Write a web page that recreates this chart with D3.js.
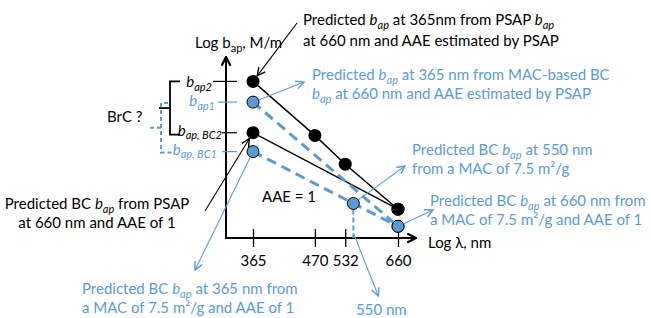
<!DOCTYPE html>
<html>
<head>
<meta charset="utf-8">
<script src="https://cdn.jsdelivr.net/npm/d3@7"></script>
<style>
  body { margin: 0; background: #fff; }
  svg { font-family: Lato, "Open Sans", sans-serif; white-space: pre; }
</style>
</head>
<body>
<div id="chart"></div>
<script>
// wavelengths on the x axis (nm)
const wavelengths = [365, 470, 532, 660];

// Log b_ap, arbitrary units
const psapWl = [365, 470, 532, 660];
const psapVals = [8.7, 5.7, 4.1, 1.6];          // predicted from PSAP b_ap + PSAP AAE
const macWl = [365, 660];
const macVals = [7.55, 0.65];                  // MAC-based BC + PSAP AAE
const bcPsapWl = [365, 660];
const bcPsapVals = [5.85, 1.6];                // BC from PSAP, AAE of 1
const bcMacWl = [365, 550, 660];
const bcMacVals = [4.8, 1.92, 0.65];           // BC from MAC 7.5, AAE of 1

const width = 651;
const height = 318;
const black = '#000';
const blue = '#5b9bd5';
const fontSize = 15;

const svg = d3.select('#chart')
              .append('svg')
              .attr('width', width)
              .attr('height', height)
              .style('font-size', fontSize + 'px');

const defs = svg.append('defs');
function marker(id, color, size, sw) {
    defs.append('marker')
        .attr('id', id)
        .attr('viewBox', '0 0 10 10')
        .attr('refX', 9)
        .attr('refY', 5)
        .attr('markerWidth', size)
        .attr('markerHeight', size)
        .attr('markerUnits', 'userSpaceOnUse')
        .attr('orient', 'auto')
        .append('path')
        .attr('d', 'M1,1 L9,5 L1,9')
        .attr('fill', 'none')
        .attr('stroke', color)
        .attr('stroke-width', sw);
}
marker('arrBlack', black, 10, 1.4);
marker('arrBlue', blue, 10, 1.4);
marker('arrAxis', black, 11, 2);

const x0 = 226, y0 = 238;
const x = d3.scaleLog().domain([365, 660]).range([253, 398]);
const y = d3.scaleLinear().domain([0, 10]).range([y0, 58]);

// axes with arrows
svg.append('line').attr('x1', x0).attr('y1', y0 + 1).attr('x2', x0).attr('y2', 57)
   .attr('stroke', black).attr('stroke-width', 2).attr('marker-end', 'url(#arrAxis)');
svg.append('line').attr('x1', x0 - 1).attr('y1', y0).attr('x2', 416).attr('y2', y0)
   .attr('stroke', black).attr('stroke-width', 2).attr('marker-end', 'url(#arrAxis)');

const xAxis = svg.append('g')
                 .attr('transform', `translate(0,${y0})`)
                 .call(d3.axisBottom(x)
                         .tickValues(wavelengths)
                         .tickFormat(d3.format('d'))
                         .tickSize(9)
                         .tickPadding(8));
xAxis.select('.domain').remove();
xAxis.selectAll('line').attr('y1', -9).attr('stroke', black).attr('stroke-width', 1.3);
xAxis.selectAll('text').style('font-size', fontSize + 'px').style('font-family', 'Lato, sans-serif').attr('fill', black);

// rich text: segments are strings or [text, kind]
function richLine(xp, yp, segs, color, anchor) {
    const t = svg.append('text')
                 .attr('x', xp)
                 .attr('y', yp)
                 .attr('fill', color)
                 .attr('text-anchor', anchor || 'start');
    let shift = 0;
    segs.forEach(s => {
        const [str, kind] = typeof s === 'string' ? [s, 'n'] : s;
        const target = (kind === 'sub' || kind === 'subn') ? 3.5 : 0;
        const ts = t.append('tspan').attr('dy', target - shift).text(str);
        shift = target;
        if (kind === 'i' || kind === 'sub') ts.style('font-style', 'italic');
        if (kind === 'sub' || kind === 'subn') ts.style('font-size', '11px');
    });
    return t;
}

function arrow(x1, y1, x2, y2, color, cut1, cut2) {
    const dx = x2 - x1, dy = y2 - y1, len = Math.hypot(dx, dy);
    svg.append('line')
       .attr('x1', x1 + dx / len * (cut1 || 0))
       .attr('y1', y1 + dy / len * (cut1 || 0))
       .attr('x2', x2 - dx / len * (cut2 || 0))
       .attr('y2', y2 - dy / len * (cut2 || 0))
       .attr('stroke', color)
       .attr('stroke-width', 1.1)
       .attr('marker-end', color === black ? 'url(#arrBlack)' : 'url(#arrBlue)');
}

// y ticks at the 365 nm values
const yTicks = [
    {v: psapVals[0], c: black, l: 13, lab: [['b', 'i'], ['ap2', 'sub']], lx: 212, ly: 6},
    {v: macVals[0], c: blue, l: 8, lab: [['b', 'i'], ['ap1', 'sub']], lx: 215, ly: 4},
    {v: bcPsapVals[0], c: black, l: 4, lab: [['b', 'i'], ['ap, BC2', 'sub']], lx: 222, ly: 3},
    {v: bcMacVals[0], c: blue, l: 4, lab: [['b', 'i'], ['ap, BC1', 'sub']], lx: 217, ly: 3}
];
yTicks.forEach(t => {
    svg.append('line').attr('x1', x0 - t.l).attr('x2', x0 + 11)
       .attr('y1', y(t.v)).attr('y2', y(t.v))
       .attr('stroke', t.c).attr('stroke-width', 1.2);
    richLine(t.lx, y(t.v) + t.ly, t.lab, t.c, 'end');
});

// brackets
const bTop = y(psapVals[0]), bBot = y(bcPsapVals[0]) + 2;
svg.append('path')
   .attr('d', `M180,${bTop} H170 V${bBot} H180 M170,${(bTop + bBot) / 2} H159`)
   .attr('fill', 'none').attr('stroke', black).attr('stroke-width', 1.8);
const cTop = y(macVals[0]) + 1, cBot = y(bcMacVals[0]) + 1;
svg.append('path')
   .attr('d', `M168,${cTop} H161 V${cBot} H172 M161,${(cTop + cBot) / 2} H150`)
   .attr('fill', 'none').attr('stroke', blue).attr('stroke-width', 2).attr('stroke-dasharray', '4,3');
svg.append('text').attr('x', 107).attr('y', 122).attr('fill', black).text('BrC ?');

// series lines
const line = d3.line().x(d => x(d[0])).y(d => y(d[1]));
const series = [
    {wl: psapWl, v: psapVals, c: black, dash: null, w: 1.5},
    {wl: bcPsapWl, v: bcPsapVals, c: black, dash: null, w: 1.5},
    {wl: macWl, v: macVals, c: blue, dash: '10,6', w: 3},
    {wl: bcMacWl, v: bcMacVals, c: blue, dash: '10,6', w: 3}
];
series.forEach(s => {
    svg.append('path')
       .datum(d3.zip(s.wl, s.v))
       .attr('d', line)
       .attr('fill', 'none')
       .attr('stroke', s.c)
       .attr('stroke-width', s.w)
       .attr('stroke-dasharray', s.dash);
});

// 550 nm drop line
svg.append('line')
   .attr('x1', x(550)).attr('x2', x(550))
   .attr('y1', y(bcMacVals[1]) + 6).attr('y2', y0)
   .attr('stroke', blue).attr('stroke-width', 2).attr('stroke-dasharray', '5,3');

// points
[series[1], series[0]].forEach(s => {
    svg.selectAll(null)
       .data(d3.zip(s.wl, s.v))
       .enter()
       .append('circle')
       .attr('cx', d => x(d[0]))
       .attr('cy', d => y(d[1]))
       .attr('r', 6.5)
       .attr('fill', black);
});
[series[2], series[3]].forEach(s => {
    svg.selectAll(null)
       .data(d3.zip(s.wl, s.v))
       .enter()
       .append('circle')
       .attr('cx', d => x(d[0]))
       .attr('cy', d => y(d[1]))
       .attr('r', 6)
       .attr('fill', blue)
       .attr('stroke', black)
       .attr('stroke-width', 1);
});

// axis titles
richLine(195, 48, ['Log b', ['ap', 'subn'], ', M/m'], black);
svg.append('text').attr('x', 428).attr('y', 248).attr('fill', black).text('Log \u03bb, nm');

// annotations
richLine(303, 25, ['Predicted ', ['b', 'i'], ['ap', 'sub'], ' at 365nm from PSAP ', ['b', 'i'], ['ap', 'sub']], black);
richLine(303, 46, ['at 660 nm and AAE estimated by PSAP'], black);
arrow(297, 23, x(365), y(psapVals[0]), black, 0, 7);

richLine(312, 80, ['Predicted ', ['b', 'i'], ['ap', 'sub'], ' at 365 nm from MAC-based BC'], blue);
richLine(312, 99, [['b', 'i'], ['ap', 'sub'], ' at 660 nm and AAE estimated by PSAP'], blue);
arrow(x(365), y(macVals[0]), 304, 82, blue, 6, 0);

richLine(97, 209, ['Predicted BC ', ['b', 'i'], ['ap', 'sub'], ' from PSAP'], black, 'middle');
richLine(97, 228, ['at 660 nm and AAE of 1'], black, 'middle');
arrow(205, 211, x(365), y(bcPsapVals[0]), black, 0, 7);

richLine(82, 294, ['Predicted BC ', ['b', 'i'], ['ap', 'sub'], ' at 365 nm from'], blue);
richLine(82, 313, ['a MAC of 7.5 m\u00b2/g and AAE of 1'], blue);
arrow(x(365), y(bcMacVals[0]), 195, 270, blue, 6, 0);

svg.append('text').attr('x', 262).attr('y', 202).attr('fill', black).text('AAE = 1');

richLine(412, 155, ['Predicted BC ', ['b', 'i'], ['ap', 'sub'], ' at 550 nm'], blue);
richLine(412, 174, ['from a MAC of 7.5 m\u00b2/g'], blue);
arrow(x(550), y(bcMacVals[1]), 405, 166, blue, 6, 0);

richLine(430, 206, ['Predicted BC ', ['b', 'i'], ['ap', 'sub'], ' at 660 nm from'], blue);
richLine(430, 225, ['a MAC of 7.5 m\u00b2/g and AAE of 1'], blue);
arrow(x(660), y(bcMacVals[2]), 433, 210, blue, 6, 0);

arrow(x(550), y0 - 5, x(550) + 25, 296, blue, 0, 0);
svg.append('text').attr('x', x(550) + 28).attr('y', 315).attr('fill', blue)
   .attr('text-anchor', 'middle').text('550 nm');
</script>
</body>
</html>
